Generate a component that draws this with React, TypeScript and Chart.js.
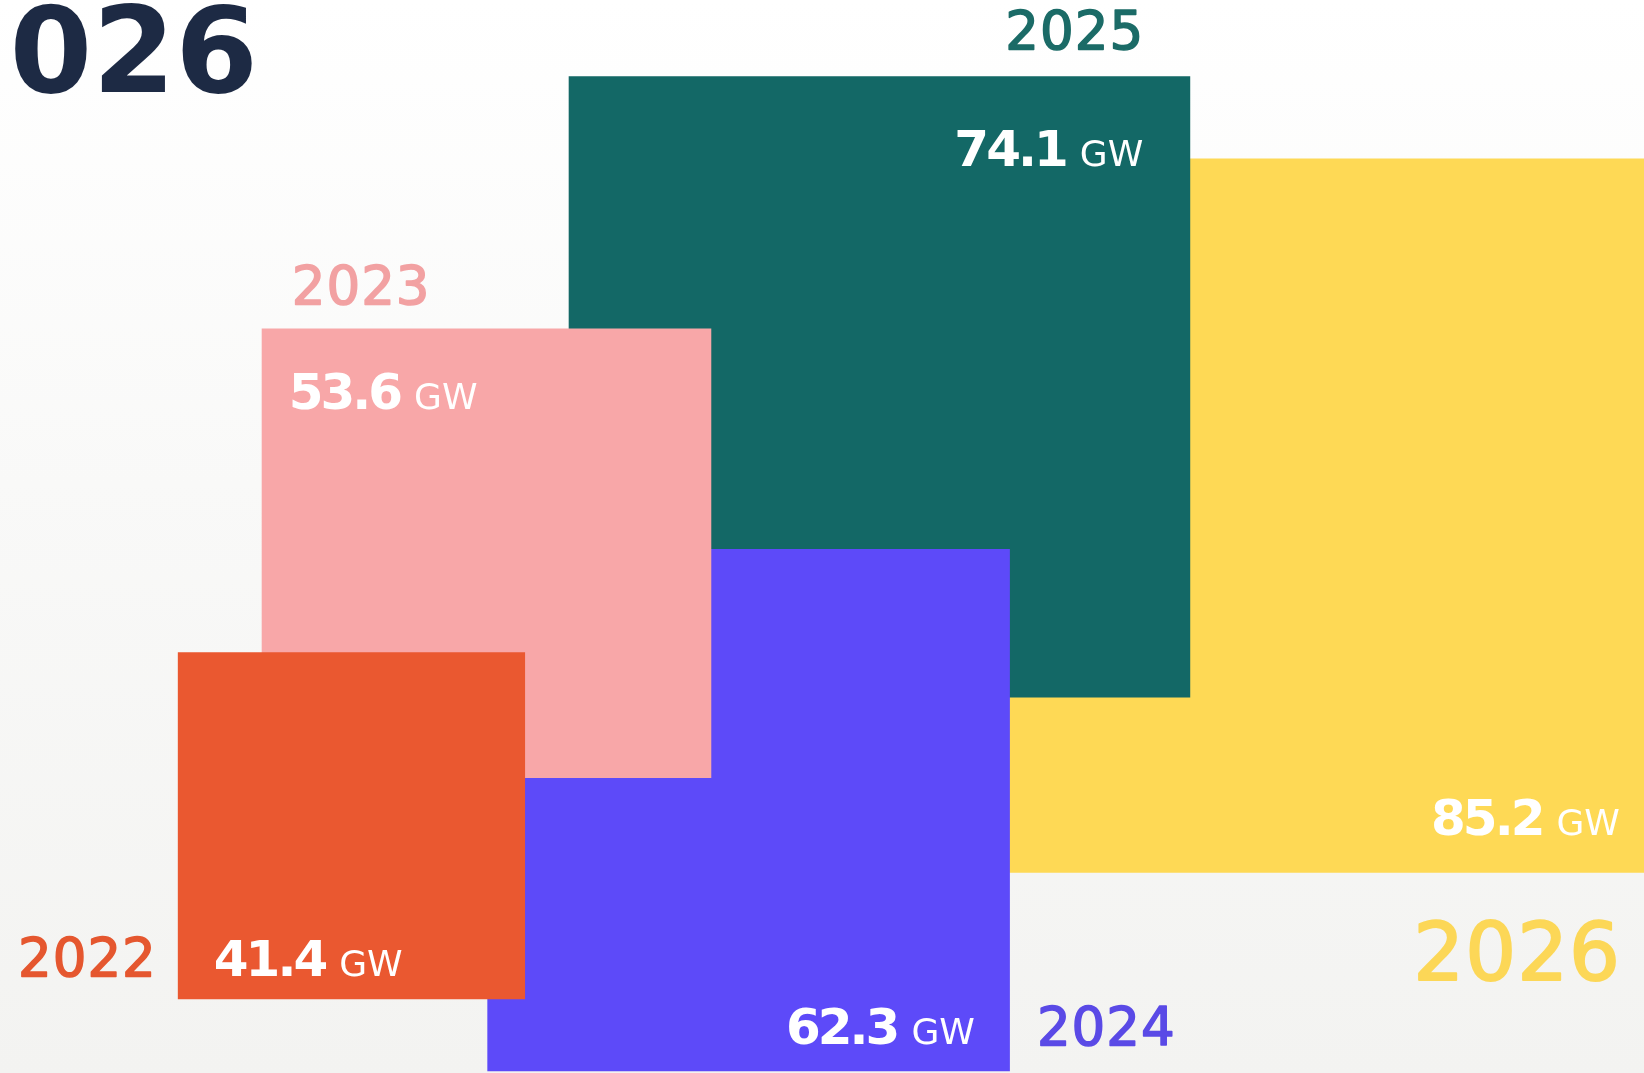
import React, { useEffect, useRef } from "react";
import { Chart, registerables } from "chart.js";

Chart.register(...registerables);

// ---- data ----
const title = "2026";
const years = ["2022", "2023", "2024", "2025", "2026"];
const capacityGW = [41.4, 53.6, 62.3, 74.1, 85.2];
const unit = "GW";

// ---- layout (chart units; a square's side equals its GW value) ----
const squareLeft = [21.2, 31.2, 58.1, 67.8, 112.7];
const squareBottom = [8.8, 35.2, 0.2, 44.8, 23.9];

// ---- styles ----
const fillColors = ["#ea5830", "#f8a7a8", "#5d4af9", "#136866", "#fed955"];
const yearColors = ["#e5572f", "#f2a1a2", "#5a4ae6", "#1b6b67", "#fcd757"];
const titleColor = "#1d2a44";

const W = 1644;
const H = 1073;
const X_MAX = 196;
const Y_MAX = 128;
const FONT = "'DejaVu Sans', 'Noto Sans', sans-serif";

type Box = { l: number; r: number; t: number; b: number };

function boxOf(chart: any, i: number): Box {
  const xs = chart.scales.x;
  const ys = chart.scales.y;
  const v = capacityGW[i];
  return {
    l: xs.getPixelForValue(squareLeft[i]),
    r: xs.getPixelForValue(squareLeft[i] + v),
    t: ys.getPixelForValue(squareBottom[i] + v),
    b: ys.getPixelForValue(squareBottom[i]),
  };
}

function drawValue(ctx: CanvasRenderingContext2D, i: number, x: number, y: number, align: "left" | "right") {
  const text = capacityGW[i].toFixed(1);
  const numFont = `bold 50px ${FONT}`;
  const unitFont = `36px ${FONT}`;
  ctx.save();
  ctx.textAlign = "left";
  ctx.textBaseline = "alphabetic";
  ctx.fillStyle = "#ffffff";
  ctx.font = numFont;
  (ctx as any).letterSpacing = "-3px";
  const nw = ctx.measureText(text).width;
  ctx.font = unitFont;
  (ctx as any).letterSpacing = "0px";
  const uw = ctx.measureText(unit).width;
  const gap = 14;
  const total = nw + gap + uw;
  const sx = align === "right" ? x - total : x;
  ctx.font = numFont;
  (ctx as any).letterSpacing = "-3px";
  ctx.fillText(text, sx, y);
  ctx.font = unitFont;
  (ctx as any).letterSpacing = "0px";
  ctx.fillText(unit, sx + nw + gap, y);
  ctx.restore();
}

function drawYear(
  ctx: CanvasRenderingContext2D,
  i: number,
  x: number,
  y: number,
  align: "left" | "right",
  size = 53,
  spacing = 1
) {
  ctx.save();
  ctx.font = `${size}px ${FONT}`;
  (ctx as any).letterSpacing = `${spacing}px`;
  ctx.fillStyle = yearColors[i];
  ctx.strokeStyle = yearColors[i];
  ctx.lineWidth = size > 60 ? 2 : 1.5;
  ctx.lineJoin = "round";
  ctx.textBaseline = "alphabetic";
  ctx.textAlign = "left";
  const w = ctx.measureText(years[i]).width - spacing;
  const sx = align === "right" ? x - w : x;
  ctx.fillText(years[i], sx, y);
  ctx.strokeText(years[i], sx, y);
  ctx.restore();
}

const backgroundPlugin = {
  id: "bgGradient",
  beforeDraw(chart: any) {
    const { ctx, width, height } = chart;
    ctx.save();
    const g = ctx.createLinearGradient(0, 0, 0, height);
    g.addColorStop(0, "#ffffff");
    g.addColorStop(0.45, "#f9f9f8");
    g.addColorStop(1, "#f3f3f1");
    ctx.fillStyle = g;
    ctx.fillRect(0, 0, width, height);
    ctx.restore();
  },
};

const labelPlugin = {
  id: "squareLabels",
  afterDraw(chart: any) {
    const ctx: CanvasRenderingContext2D = chart.ctx;

    // title (partly cut off at the left edge)
    ctx.save();
    ctx.font = `bold 119px ${FONT}`;
    (ctx as any).letterSpacing = "0px";
    ctx.fillStyle = titleColor;
    ctx.textBaseline = "alphabetic";
    ctx.textAlign = "left";
    const tw = ctx.measureText(title).width;
    const rsb = 6;
    ctx.fillText(title, 252 + rsb - tw, 92);
    ctx.restore();

    const b0 = boxOf(chart, 0);
    drawValue(ctx, 0, b0.l + 36, b0.b - 23, "left");
    drawYear(ctx, 0, b0.l - 22, b0.b - 23, "right");

    const b1 = boxOf(chart, 1);
    drawValue(ctx, 1, b1.l + 27, b1.t + 80, "left");
    drawYear(ctx, 1, b1.l + 30, b1.t - 25, "left");

    const b2 = boxOf(chart, 2);
    drawValue(ctx, 2, b2.r - 35, b2.b - 27, "right");
    drawYear(ctx, 2, b2.r + 27, b2.b - 26, "left");

    const b3 = boxOf(chart, 3);
    drawValue(ctx, 3, b3.r - 47, b3.t + 90, "right");
    drawYear(ctx, 3, b3.r - 47, b3.t - 27, "right");

    const b4 = boxOf(chart, 4);
    drawValue(ctx, 4, b4.r - 40, b4.b - 38, "right");
    drawYear(ctx, 4, b4.r - 40, b4.b + 107, "right", 80, 1);
  },
};

export default function App() {
  const ref = useRef<HTMLCanvasElement>(null);

  useEffect(() => {
    document.body.style.margin = "0";
    document.body.style.overflow = "hidden";
    const canvas = ref.current;
    if (!canvas) return;

    const datasets = capacityGW.map((v, i) => {
      const l = squareLeft[i];
      const b = squareBottom[i];
      return {
        label: years[i],
        data: [
          { x: l, y: b },
          { x: l + v, y: b },
          { x: l + v, y: b + v },
          { x: l, y: b + v },
          { x: l, y: b },
        ],
        fill: "shape",
        backgroundColor: fillColors[i],
        borderColor: "rgba(0,0,0,0)",
        borderWidth: 0,
        pointRadius: 0,
        pointHoverRadius: 0,
        pointBorderWidth: 0,
        tension: 0,
      };
    });

    const chart = new Chart(canvas, {
      type: "line",
      data: { datasets } as any,
      options: {
        responsive: false,
        animation: false,
        devicePixelRatio: 1,
        events: [],
        layout: { padding: 0, autoPadding: false } as any,
        scales: {
          x: { type: "linear", min: 0, max: X_MAX, display: false },
          y: { type: "linear", min: 0, max: Y_MAX, display: false },
        },
        plugins: {
          legend: { display: false },
          tooltip: { enabled: false },
          filler: { propagate: false },
        },
      } as any,
      plugins: [backgroundPlugin, labelPlugin],
    });

    return () => chart.destroy();
  }, []);

  return (
    <div style={{ position: "absolute", left: 0, top: 0, width: W, height: H, overflow: "hidden" }}>
      <canvas ref={ref} width={W} height={H} style={{ display: "block", width: W, height: H }} />
    </div>
  );
}
